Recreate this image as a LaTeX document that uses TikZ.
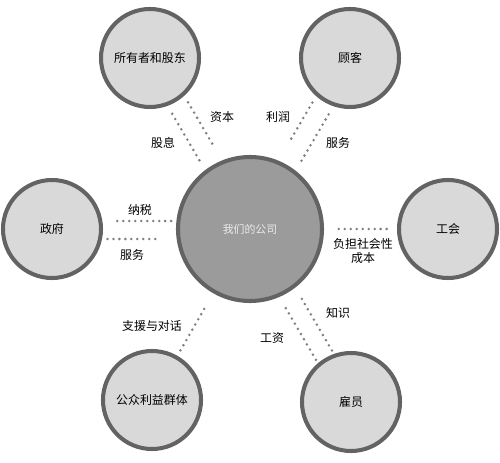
\documentclass[tikz,border=0pt]{standalone}
\usepackage{fontspec}
\newfontfamily\cjk{Noto Sans CJK SC}
\usepackage{tikz}
\usetikzlibrary{calc}
\definecolor{ringGray}{HTML}{636363}
\definecolor{partFill}{HTML}{D9D9D9}
\definecolor{coreFill}{HTML}{9B9B9B}
\definecolor{dotGray}{HTML}{808080}

\begin{document}
\begin{tikzpicture}[font=\cjk\fontsize{6.8pt}{8pt}\selectfont,
  party/.style={circle, draw=ringGray, line width=2.3pt, fill=partFill, minimum size=1.96cm, inner sep=0pt},
  core/.style={party, fill=coreFill, minimum size=2.88cm, text=white!92!black, font=\cjk\fontsize{6.2pt}{7pt}\selectfont},
  dotline/.style={dotGray, line width=1.6pt, line cap=round, dash pattern=on 0pt off 3.4pt}]
\useasboundingbox (-5,-4.66) rectangle (5,4.58);
% ---- the company and its stakeholders ----
\node[core] (co) at (0,0) {我们的公司};
\node[party] (own) at (-2.0,3.42) {所有者和股东};
\node[party] (cus) at (2.0,3.42) {顾客};
\node[party] (gov) at (-3.96,0) {政府};
\node[party] (uni) at (3.96,0) {工会};
\node[party] (pub) at (-1.96,-3.42) {公众利益群体};
\node[party] (emp) at (2.02,-3.46) {雇员};
% ---- dotted links: node / start / end / side offset ----
\foreach \n/\a/\b/\d in {own/.29/.54/.21, own/.30/.60/-.18,
                         cus/.29/.53/-.2, cus/.30/.60/.2,
                         gov/.33/.61/.16, gov/.28/.54/-.2,
                         uni/.31/.58/0,   pub/.29/.54/0,
                         emp/.27/.57/.18, emp/.27/.58/-.19}
  {\draw[dotline] ($(\n.center)!\a!(co.center)!\d cm!90:(co.center)$)
               -- ($(\n.center)!\b!(co.center)!\d cm!90:(co.center)$);}
% ---- what flows along the links ----
\node (capL) at (-0.56,2.24) {资本};
\node (divL) at (-1.74,1.72) {股息};
\node (proL) at (0.56,2.24) {利润};
\node (srvL) at (1.76,1.72) {服务};
\node (taxL) at (-2.2,0.38) {纳税};
\node (pubsrvL) at (-2.36,-0.52) {服务};
\node[align=center] (costL) at (2.26,-0.44) {负担社会性\\成本};
\node (supL) at (-1.96,-1.94) {支援与对话};
\node (knoL) at (1.76,-1.68) {知识};
\node (wagL) at (0.44,-2.18) {工资};
\end{tikzpicture}
\end{document}
